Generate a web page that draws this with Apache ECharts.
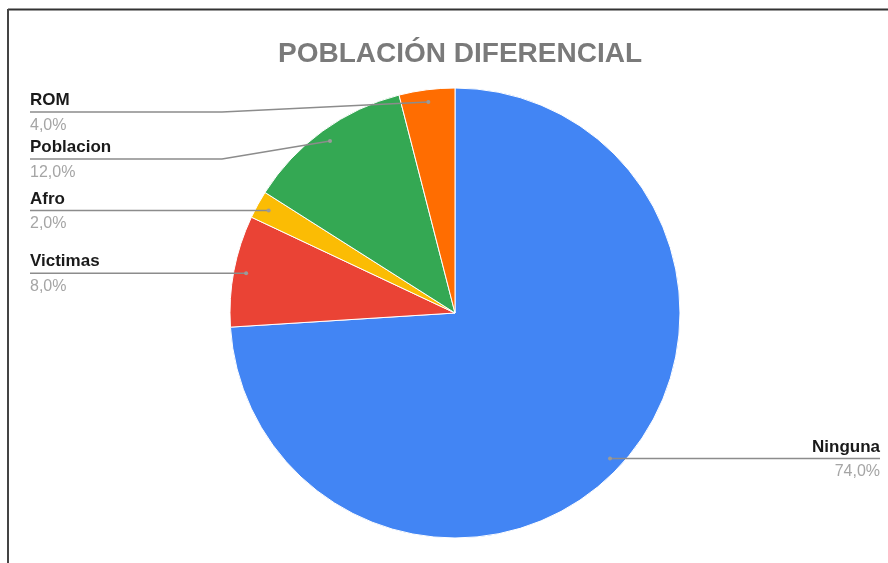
<!DOCTYPE html>
<html>
<head>
<meta charset="utf-8">
<script src="https://cdn.jsdelivr.net/npm/echarts@6/dist/echarts.min.js"></script>
<style>
  html, body { margin: 0; padding: 0; background: #fff; }
  #main { width: 888px; height: 563px; }
</style>
</head>
<body>
<div id="main"></div>
<script>
// datos del grafico
const names = ['Ninguna', 'Victimas', 'Afro', 'Poblacion', 'ROM'];
const values = [74, 8, 2, 12, 4];
const colors = ['#4285f4', '#ea4335', '#fbbc04', '#34a853', '#ff6d01'];

const CX = 455, CY = 313, R = 225;
const DOT_R = R * 0.945;   // donde arranca la linea guia
const TOP_Y = 112;         // primera etiqueta de la izquierda
const GAP = 47;
const LEFT_X = 30, RIGHT_X = 880;

function fmt(v) {
  return v.toFixed(1).replace('.', ',') + '%';
}

// punto de cada porcion (angulo medio, sentido horario desde arriba)
const total = values.reduce((a, b) => a + b, 0);
let acc = 0;
const dots = values.map(function (v) {
  const mid = (acc + v / 2) / total * Math.PI * 2;
  acc += v;
  return [CX + DOT_R * Math.sin(mid), CY - DOT_R * Math.cos(mid)];
});

// altura de la linea de cada etiqueta, apiladas para que no se pisen
const lineY = dots.map(d => d[1]);
const left = dots.map((d, i) => i).filter(i => dots[i][0] < CX).sort((a, b) => dots[a][1] - dots[b][1]);
let prev = TOP_Y - GAP;
left.forEach(function (i) {
  lineY[i] = Math.max(dots[i][1], prev + GAP);
  prev = lineY[i];
});

// lineas guia (encima de las porciones)
function guide(i) {
  const d = dots[i], y = lineY[i];
  if (d[0] < CX) {
    const bendX = Math.min(d[0], CX - R - 8);
    return [[d[0], d[1]], [bendX, y], [LEFT_X, y]];
  }
  return [[d[0], d[1]], [d[0] + 20, y], [RIGHT_X, y]];
}

const myChart = echarts.init(document.getElementById('main'));

const graphics = [
  { type: 'line', shape: { x1: 8, y1: 9.5, x2: 888, y2: 9.5 }, style: { stroke: '#333', lineWidth: 2 } },
  { type: 'line', shape: { x1: 8, y1: 9, x2: 8, y2: 563 }, style: { stroke: '#444', lineWidth: 2 } }
];
dots.forEach(function (d, i) {
  graphics.push({ type: 'polyline', shape: { points: guide(i) }, style: { stroke: '#8c8c8c', lineWidth: 1.5, fill: null }, z: 99 });
  graphics.push({ type: 'circle', shape: { cx: d[0], cy: d[1], r: 2 }, style: { fill: '#9a9a9a' }, z: 100 });
});

const option = {
  backgroundColor: '#fff',
  animation: false,
  title: {
    text: 'POBLACIÓN DIFERENCIAL',
    left: 455,
    textAlign: 'center',
    top: 35,
    textStyle: {
      fontFamily: 'Liberation Sans',
      fontSize: 28,
      fontWeight: 'bold',
      color: '#7a7a7a'
    }
  },
  graphic: graphics,
  series: [{
    type: 'pie',
    center: [CX, CY],
    radius: R,
    startAngle: 90,
    clockwise: true,
    avoidLabelOverlap: false,
    itemStyle: { borderColor: '#fff', borderWidth: 1 },
    data: names.map((n, i) => ({ name: n, value: values[i], itemStyle: { color: colors[i] } })),
    label: {
      show: true,
      position: 'outside',
      formatter: p => '{n|' + p.name + '}\n{p|' + fmt(p.value) + '}',
      rich: {
        n: { fontFamily: 'Liberation Sans', fontSize: 17, fontWeight: 'bold', color: '#1a1a1a', lineHeight: 25 },
        p: { fontFamily: 'Liberation Sans', fontSize: 16, color: '#a5a5a5', lineHeight: 25 }
      }
    },
    labelLine: { show: false },
    labelLayout: function (params) {
      const i = params.dataIndex;
      if (dots[i][0] < CX) {
        return { x: LEFT_X, y: lineY[i] + 1, align: 'left', verticalAlign: 'middle' };
      }
      return { x: RIGHT_X, y: lineY[i] + 1, align: 'right', verticalAlign: 'middle' };
    }
  }]
};
myChart.setOption(option);
</script>
</body>
</html>
